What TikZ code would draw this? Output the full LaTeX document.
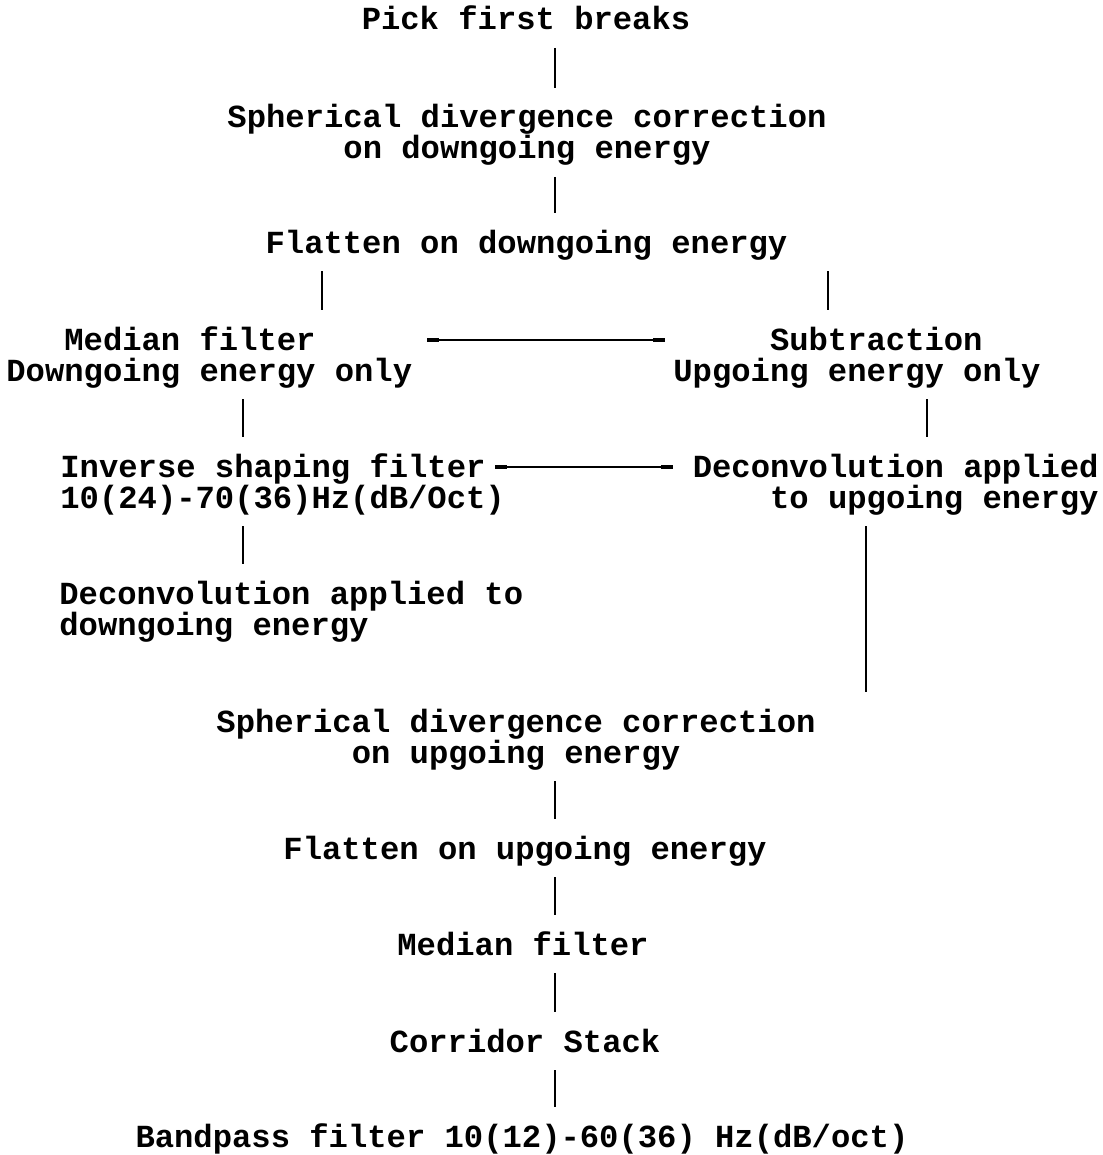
\documentclass[tikz,border=0pt]{standalone}
\usepackage{fontspec}
\setmonofont{Liberation Mono}
\usepackage{tikz}
\usetikzlibrary{arrows.meta}

\begin{document}
\begin{tikzpicture}[
    x=0.5pt, y=-0.5pt,
    stage/.style={inner sep=0pt, anchor=base,
                font=\fontsize{16.1pt}{15.5pt}\selectfont\ttfamily\bfseries},
    link/.style={line width=1pt, shorten <=9pt, shorten >=20pt},
    tie/.style={line width=1pt, {Rectangle[length=6pt,width=2.4pt]}-{Rectangle[length=6pt,width=2.4pt]}}
  ]
    \useasboundingbox (0,0) rectangle (1102,1155);

    \coordinate (mid)    at (555,0);
    \coordinate (downa)  at (322,0);
    \coordinate (downb)  at (243,0);
    \coordinate (upa)    at (828,0);
    \coordinate (upb)    at (927,0);
    \coordinate (upc)    at (866,0);

    % two-line nodes sit on the baseline of their last line
    \node[stage] (pick)     at (526,30)   {Pick first breaks};
    \node[stage, align=center] (sphdown) at (527,159) {Spherical divergence correction\\on downgoing energy};
    \node[stage] (flatdown) at (526.5,253) {Flatten on downgoing energy};
    \node[stage, anchor=base west, align=left] (medfilt) at (6,381) {\hphantom{Med}Median filter\\Downgoing energy only};
    \node[stage, anchor=base west, align=left] (subtr)   at (673,381) {\hphantom{Upgoi}Subtraction\\Upgoing energy only};
    \node[stage, anchor=base west, align=left] (invshape) at (60,508) {Inverse shaping filter\\10(24)-70(36)Hz(dB/Oct)};
    \node[stage, anchor=base east, align=right] (deconup) at (1099,508) {Deconvolution applied\\to upgoing energy};
    \node[stage, anchor=base west, align=left] (decondown) at (59,635) {Deconvolution applied to\\downgoing energy};
    \node[stage, align=center] (sphup) at (516,763) {Spherical divergence correction\\on upgoing energy};
    \node[stage] (flatup)   at (525,859)  {Flatten on upgoing energy};
    \node[stage] (median)   at (523,955)  {Median filter};
    \node[stage] (corridor) at (525,1052) {Corridor Stack};
    \node[stage] (bandpass) at (522,1147) {Bandpass filter 10(12)-60(36) Hz(dB/oct)};

    \draw[link] (pick.base -| mid) -- ([yshift=15.5pt]sphdown.base -| mid);
    \draw[link] (sphdown.base -| mid) -- (flatdown.base -| mid);
    \draw[link] (flatdown.base -| downa) -- ([yshift=15.5pt]medfilt.base -| downa);
    \draw[link] (flatdown.base -| upa) -- ([yshift=15.5pt]subtr.base -| upa);
    \draw[link] (medfilt.base -| downb) -- ([yshift=15.5pt]invshape.base -| downb);
    \draw[link] (subtr.base -| upb) -- ([yshift=15.5pt]deconup.base -| upb);
    \draw[link] (invshape.base -| downb) -- ([yshift=15.5pt]decondown.base -| downb);
    \draw[link] (deconup.base -| upc) -- ([yshift=15.5pt]sphup.base -| upc);
    \draw[link] (sphup.base -| mid) -- (flatup.base -| mid);
    \draw[link] (flatup.base -| mid) -- (median.base -| mid);
    \draw[link] (median.base -| mid) -- (corridor.base -| mid);
    \draw[link] (corridor.base -| mid) -- (bandpass.base -| mid);

    \draw[tie, shorten <=7pt, shorten >=4pt] ([yshift=20.5pt]medfilt.base -| medfilt.east) -- ([yshift=20.5pt]subtr.base -| subtr.west);
    \draw[tie, shorten <=-5pt, shorten >=9.5pt] ([yshift=20.5pt]invshape.base -| invshape.east) -- ([yshift=20.5pt]deconup.base -| deconup.west);
\end{tikzpicture}
\end{document}
